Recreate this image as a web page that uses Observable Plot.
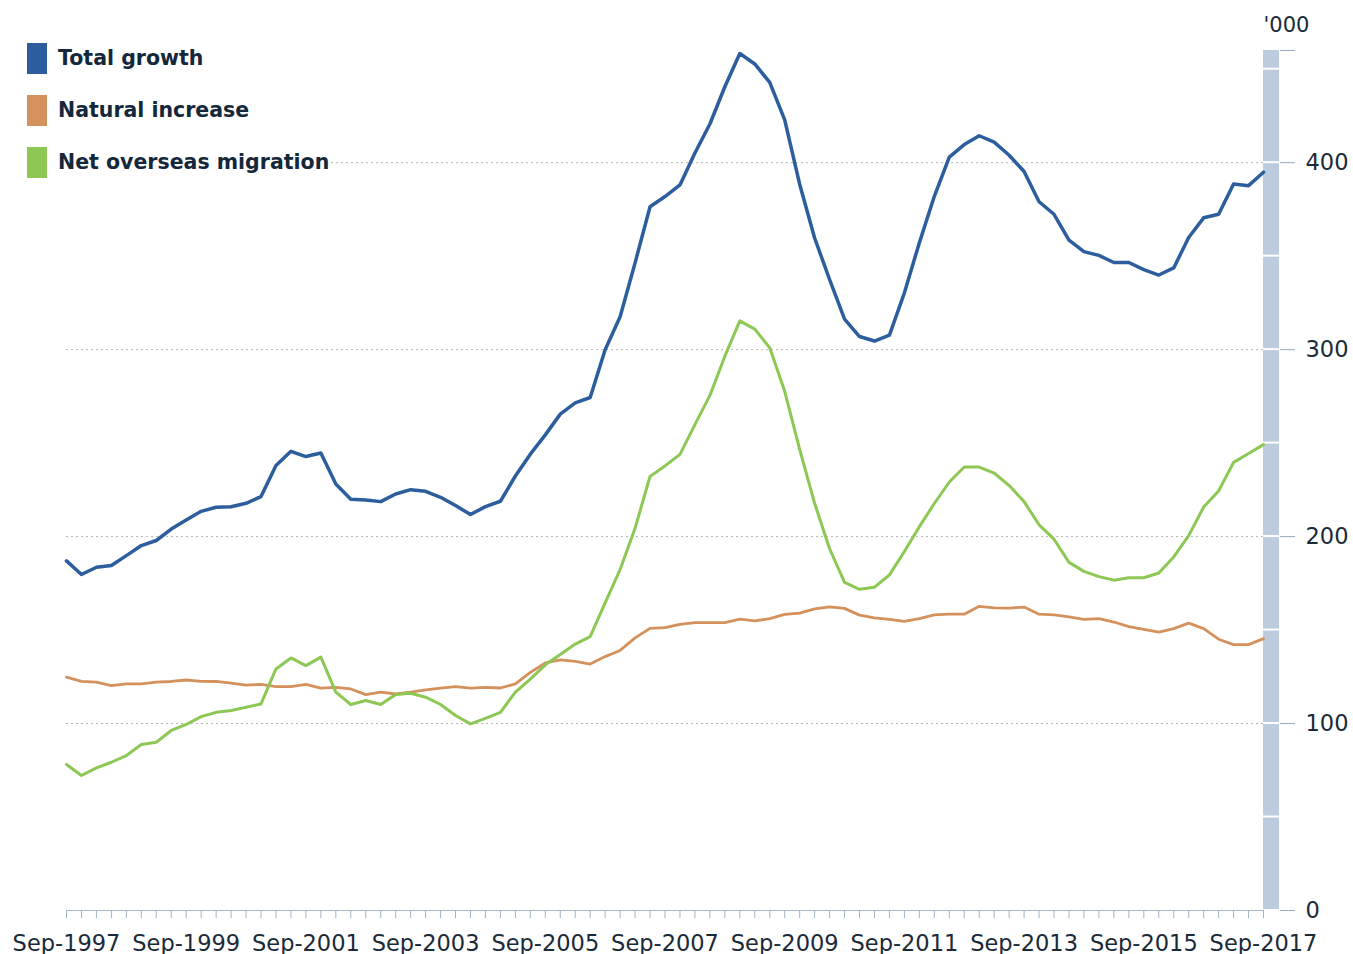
<!DOCTYPE html>
<html>
<head>
<meta charset="utf-8">
<script src="https://cdn.jsdelivr.net/npm/d3@7"></script>
<script src="https://cdn.jsdelivr.net/npm/@observablehq/plot@0.6"></script>
<style>
  html, body { margin: 0; padding: 0; background: #fff; }
  #wrap { position: relative; width: 1353px; height: 954px; font-family: "DejaVu Sans", Verdana, sans-serif; }
  #legend { position: absolute; left: 27px; top: 42px; background: #fff; }
  .row { display: flex; align-items: center; height: 32px; margin-bottom: 20px; }
  .sw { width: 20px; height: 31px; margin-right: 11px; }
  .lab { font-weight: bold; font-size: 20.5px; color: #14273b; white-space: nowrap; }
</style>
</head>
<body>
<div id="wrap"></div>
<script>
const quarters = [
 "Sep-1997","Dec-1997","Mar-1998","Jun-1998","Sep-1998","Dec-1998","Mar-1999","Jun-1999",
 "Sep-1999","Dec-1999","Mar-2000","Jun-2000","Sep-2000","Dec-2000","Mar-2001","Jun-2001",
 "Sep-2001","Dec-2001","Mar-2002","Jun-2002","Sep-2002","Dec-2002","Mar-2003","Jun-2003",
 "Sep-2003","Dec-2003","Mar-2004","Jun-2004","Sep-2004","Dec-2004","Mar-2005","Jun-2005",
 "Sep-2005","Dec-2005","Mar-2006","Jun-2006","Sep-2006","Dec-2006","Mar-2007","Jun-2007",
 "Sep-2007","Dec-2007","Mar-2008","Jun-2008","Sep-2008","Dec-2008","Mar-2009","Jun-2009",
 "Sep-2009","Dec-2009","Mar-2010","Jun-2010","Sep-2010","Dec-2010","Mar-2011","Jun-2011",
 "Sep-2011","Dec-2011","Mar-2012","Jun-2012","Sep-2012","Dec-2012","Mar-2013","Jun-2013",
 "Sep-2013","Dec-2013","Mar-2014","Jun-2014","Sep-2014","Dec-2014","Mar-2015","Jun-2015",
 "Sep-2015","Dec-2015","Mar-2016","Jun-2016","Sep-2016","Dec-2016","Mar-2017","Jun-2017",
 "Sep-2017"
];
const xTickLabels = ["Sep-1997","Sep-1999","Sep-2001","Sep-2003","Sep-2005","Sep-2007","Sep-2009","Sep-2011","Sep-2013","Sep-2015","Sep-2017"];
const yTicks = [0, 100, 200, 300, 400];
const yMax = 460;

const totalGrowth = [
 187,179.7,183.6,184.5,189.8,195.2,197.9,204,208.9,213.5,215.7,216,217.8,221.4,238,245.6,
 242.8,244.7,228.1,220,219.6,218.7,222.8,225.1,224.2,221,216.6,211.8,216,218.9,232.4,244.1,
 254.4,265.5,271.5,274.4,299.9,317.6,346.4,376.4,381.9,388.1,405.2,420.7,440.6,458.4,452.8,442.9,
 422.9,388.5,359.7,337.5,316.3,307,304.6,307.8,330.4,357.2,382,403,409.7,414.4,411,404,
 395.3,379.1,372.4,358.6,352.4,350.4,346.6,346.6,342.8,339.9,343.7,360,370.5,372.4,388.6,387.7,
 394.9
];
const naturalIncrease = [
 124.8,122.6,122.1,120.3,121.2,121.2,122.1,122.5,123.3,122.6,122.5,121.6,120.6,120.9,119.8,119.8,
 120.9,118.9,119.4,118.5,115.5,116.8,115.8,116.8,118,118.9,119.8,118.9,119.4,119,121.2,127.4,
 132.4,134,133.2,131.8,135.8,139.1,145.8,150.9,151.3,153.1,154,154,154,155.8,154.9,156.1,
 158.4,159.1,161.3,162.4,161.6,158,156.5,155.7,154.7,156.1,158.1,158.5,158.5,162.7,161.9,161.7,
 162.3,158.5,158.1,157,155.7,156.1,154.3,151.8,150.4,148.9,150.8,153.7,150.8,145.1,142.2,142.2,
 145.4
];
const netOverseasMigration = [
 78.1,72.2,76.3,79.3,82.9,88.8,90,96.3,99.5,103.7,106,107,108.7,110.5,129.2,135.1,
 131,135.5,116.8,110.2,112.3,110.2,115.5,116.2,114.1,110.2,104.3,99.8,102.8,106,116.8,123.8,
 131.4,136.9,142.5,146.5,164.6,182.4,204.5,232.2,237.8,244,259.9,275.5,296.5,315.4,311,301,
 277.7,246.6,217.8,193.5,175.5,171.8,172.9,179.5,192,205.3,217.7,229.2,237.2,237.2,234,227.3,
 218.7,206.3,198.6,186.2,181.4,178.6,176.7,178,178,180.5,189.1,200.5,215.8,224.4,239.7,244.4,
 249.2
];

const seriesNames = ["Total growth", "Natural increase", "Net overseas migration"];
const seriesColors = ["#2c5e9d", "#d4915c", "#8cc853"];

const toRows = (vals) => vals.map((v, i) => ({q: quarters[i], v}));

// decorative band + right-hand tick dashes
function rightBand(index, scales, values, dimensions) {
  const g = d3.create("svg:g");
  const x0 = dimensions.width - dimensions.marginRight;
  const y = scales.y;
  for (let v = 0; v < yMax; v += 50) {
    const last = v + 50 >= yMax;
    const top = y(Math.min(v + 50, yMax));
    const bot = y(v);
    g.append("rect")
      .attr("x", x0).attr("width", 16)
      .attr("y", top + (last ? 0 : 1))
      .attr("height", bot - top - (last ? 1 : 2))
      .attr("fill", "#bdcbde");
  }
  for (const t of [...yTicks, yMax]) {
    g.append("line")
      .attr("x1", x0 + 17).attr("x2", x0 + 32)
      .attr("y1", y(t) + 0.5).attr("y2", y(t) + 0.5)
      .attr("stroke", "#9aaabd").attr("stroke-width", 1);
  }
  return g.node();
}

const chart = Plot.plot({
  width: 1353,
  height: 954,
  marginLeft: 66,
  marginRight: 90,
  marginTop: 50,
  marginBottom: 44,
  style: {fontFamily: "DejaVu Sans, Verdana, sans-serif", fontSize: "22px", color: "#1b2a38", background: "#fff", overflow: "visible"},
  x: {type: "point", domain: quarters, padding: 0, axis: null, label: null},
  y: {domain: [0, yMax], axis: null, label: null},
  marks: [
    Plot.gridY(yTicks.filter(t => t > 0), {stroke: "#b5b5b5", strokeOpacity: 1, strokeDasharray: "2,3"}),
    Plot.ruleY([0], {stroke: "#a9b8ca"}),
    Plot.axisX(quarters, {tickSize: 8, tickFormat: () => "", stroke: "#a3b3c6", label: null}),
    Plot.axisX(xTickLabels, {tickSize: 0, tickPadding: 25, fontSize: 22.5, fill: "#1b2a38", label: null}),
    Plot.axisY(yTicks, {anchor: "right", tickSize: 0, tickPadding: 42, fontSize: 22.5, fill: "#1b2a38", label: null}),
    rightBand,
    Plot.text(["'000"], {frameAnchor: "top-right", textAnchor: "start", dy: -33, fontSize: 21, fill: "#1b2a38"}),
    Plot.line(toRows(naturalIncrease), {x: "q", y: "v", stroke: seriesColors[1], strokeWidth: 2.8}),
    Plot.line(toRows(netOverseasMigration), {x: "q", y: "v", stroke: seriesColors[2], strokeWidth: 3}),
    Plot.line(toRows(totalGrowth), {x: "q", y: "v", stroke: seriesColors[0], strokeWidth: 3.5})
  ]
});

const wrap = document.getElementById("wrap");
wrap.appendChild(chart);
const legend = document.createElement("div");
legend.id = "legend";
seriesNames.forEach((name, i) => {
  const row = document.createElement("div");
  row.className = "row";
  const sw = document.createElement("div");
  sw.className = "sw";
  sw.style.background = seriesColors[i];
  const lab = document.createElement("span");
  lab.className = "lab";
  lab.textContent = name;
  row.appendChild(sw);
  row.appendChild(lab);
  legend.appendChild(row);
});
wrap.appendChild(legend);
</script>
</body>
</html>
